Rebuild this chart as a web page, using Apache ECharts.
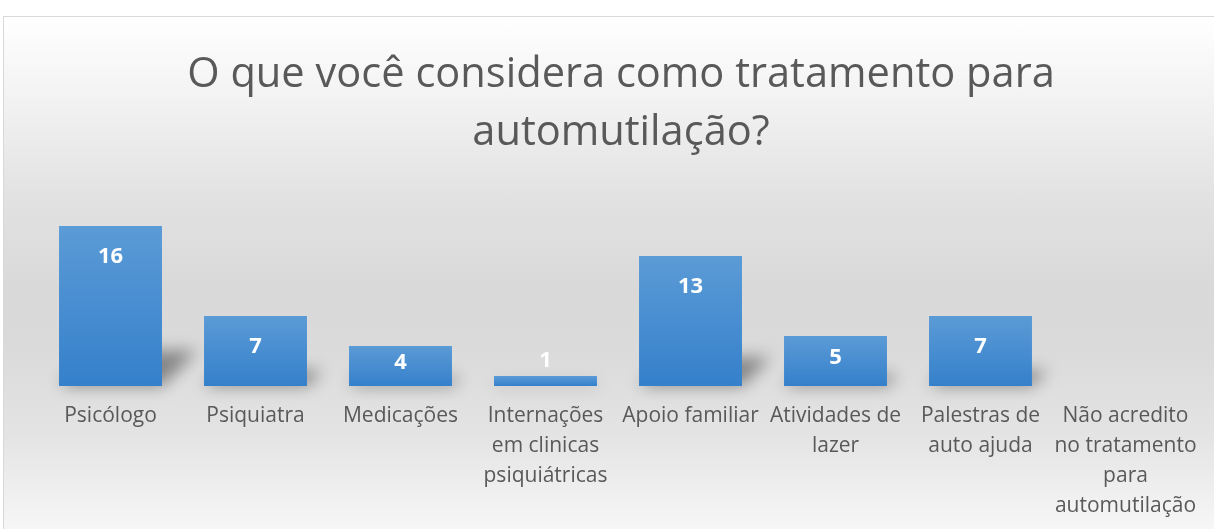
<!DOCTYPE html>
<html>
<head>
<meta charset="utf-8">
<script src="https://cdn.jsdelivr.net/npm/echarts@6/dist/echarts.min.js"></script>
<style>
  html, body { margin: 0; padding: 0; width: 1214px; height: 529px; overflow: hidden; background: #ffffff; }
  #bg { position: absolute; left: 3px; top: 16px; width: 1230px; height: 580px;
        border: 1px solid #d9d9d9;
        background: linear-gradient(to bottom, #ffffff 0px, #f1f1f1 90px, #e2e2e2 180px, #d9d9d9 270px, #dadada 330px, #e4e4e4 420px, #f6f6f6 510px, #ffffff 580px); }
  #chart { position: absolute; left: 0; top: 0; width: 1214px; height: 529px; }
</style>
</head>
<body>
<div id="bg"></div>
<div id="chart"></div>
<script>
const titleText = 'O que você considera como tratamento para\nautomutilação?';
const categories = [
  'Psicólogo',
  'Psiquiatra',
  'Medicações',
  'Internações em clinicas psiquiátricas',
  'Apoio familiar',
  'Atividades de lazer',
  'Palestras de auto ajuda',
  'Não acredito no tratamento para automutilação'
];
const values = [16, 7, 4, 1, 13, 5, 7, 0];

const LABEL_FONT = '21px "Open Sans"';
const LABEL_WIDTH = 146;

// Word wrap without breaking inside words (like the original chart)
const measureCtx = document.createElement('canvas').getContext('2d');
function wrapWords(text) {
  measureCtx.font = LABEL_FONT;
  const words = text.split(' ');
  const lines = [];
  let cur = '';
  words.forEach(w => {
    const test = cur ? cur + ' ' + w : w;
    if (cur && measureCtx.measureText(test).width > LABEL_WIDTH) {
      lines.push(cur);
      cur = w;
    } else {
      cur = test;
    }
  });
  if (cur) lines.push(cur);
  return lines.join('\n');
}

const chart = echarts.init(document.getElementById('chart'), null, { renderer: 'canvas' });

function labelFor(v) {
  if (v >= 6) return { position: 'insideTop', distance: 20 };
  if (v >= 3) return { position: 'inside', offset: [0, -3] };
  return { position: 'top', distance: 4 };
}

const barData = values.map(v => ({ value: v, label: labelFor(v) }));
const shadowData = values.map((v, i) => [i, v]);

const OFF = 3000;
chart.setOption({
  backgroundColor: 'transparent',
  animation: false,
  title: {
    text: titleText,
    left: 616,
    top: 41,
    textAlign: 'center',
    textStyle: { fontFamily: 'Open Sans', fontSize: 41.6, fontWeight: 'normal', color: '#595959', lineHeight: 58 }
  },
  grid: { left: 38, right: 16, top: 186, bottom: 143, containLabel: false, outerBoundsMode: 'none' },
  xAxis: {
    type: 'category',
    data: categories,
    axisLine: { show: false },
    axisTick: { show: false },
    axisLabel: {
      interval: 0,
      margin: 15,
      fontFamily: 'Open Sans',
      fontSize: 21,
      lineHeight: 30,
      color: '#595959',
      formatter: wrapWords
    }
  },
  yAxis: { type: 'value', min: 0, max: 20, show: false, splitLine: { show: false } },
  series: [
    {
      type: 'custom',
      z: 1,
      silent: true,
      data: shadowData,
      renderItem: function (params, api) {
        const v = api.value(1);
        if (!v) return;
        const base = api.coord([api.value(0), 0]);
        const top = api.coord([api.value(0), v]);
        const bw = api.size([1, 0])[0] * 0.71;
        const h = base[1] - top[1];
        const x0 = base[0] - bw / 2, x1 = base[0] + bw / 2, y0 = base[1];
        const dx = h * 0.22, dy = h * 0.22;
        return {
          type: 'polygon',
          shape: { points: [[x0 - OFF, y0], [x1 - OFF, y0], [x1 + dx - OFF, y0 - dy], [x0 + dx - OFF, y0 - dy]] },
          style: { fill: '#000', shadowColor: 'rgba(0,0,0,0.4)', shadowBlur: 16, shadowOffsetX: OFF, shadowOffsetY: 0 }
        };
      }
    },
    {
      type: 'bar',
      z: 2,
      data: barData,
      barWidth: '71%',
      itemStyle: {
        color: new echarts.graphic.LinearGradient(0, 0, 0, 1, [
          { offset: 0, color: '#5b9bd6' },
          { offset: 1, color: '#3580cb' }
        ])
      },
      label: {
        show: true,
        color: '#ffffff',
        fontFamily: 'Open Sans',
        fontWeight: 'bold',
        fontSize: 22,
        formatter: p => (p.value ? String(p.value) : '')
      }
    }
  ]
});
</script>
</body>
</html>
